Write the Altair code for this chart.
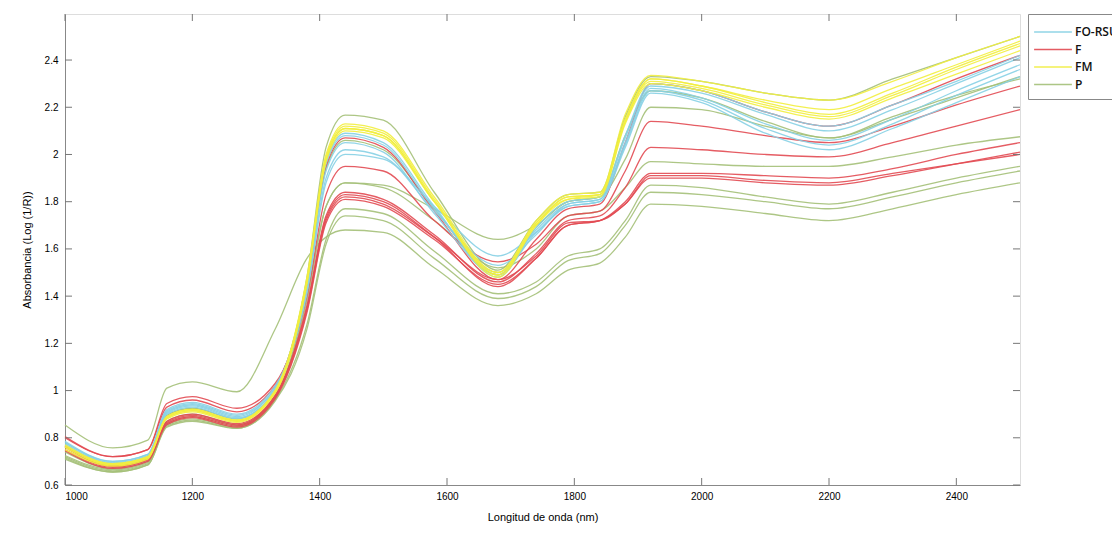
import altair as alt
import pandas as pd

WL = [1000, 1075, 1130, 1160, 1200, 1270, 1330, 1380, 1410, 1440, 1500, 1580,
      1680, 1740, 1790, 1840, 1880, 1920, 2000, 2100, 2200, 2300, 2400, 2500]

GROUPS = ["FO-RSU", "F", "FM", "P"]
COLORS = ["#86d0e4", "#e24a52", "#f2ee3e", "#a4c078"]

# P (green)
p1 = [0.72, 0.66, 0.69, 0.855, 0.88, 0.845, 0.965, 1.40, 1.78, 1.88, 1.87, 1.77, 1.64, 1.70, 1.80, 1.82, 1.98, 2.20, 2.19, 2.12, 2.07, 2.15, 2.24, 2.33]
p2 = [0.725, 0.665, 0.695, 0.87, 0.90, 0.855, 0.98, 1.48, 2.03, 2.167, 2.145, 1.84, 1.51, 1.72, 1.83, 1.84, 2.16, 2.33, 2.31, 2.26, 2.23, 2.32, 2.41, 2.50]
p3 = [0.765, 0.685, 0.715, 0.895, 0.925, 0.88, 1.00, 1.45, 1.94, 2.06, 2.02, 1.77, 1.49, 1.69, 1.80, 1.82, 2.08, 2.27, 2.24, 2.14, 2.07, 2.16, 2.25, 2.32]
p4 = [0.74, 0.67, 0.70, 0.86, 0.89, 0.85, 0.97, 1.38, 1.78, 1.88, 1.86, 1.72, 1.52, 1.60, 1.74, 1.76, 1.86, 1.97, 1.96, 1.95, 1.95, 1.99, 2.04, 2.075]
p5 = [0.71, 0.655, 0.685, 0.85, 0.875, 0.84, 0.96, 1.28, 1.64, 1.77, 1.75, 1.59, 1.41, 1.46, 1.57, 1.60, 1.72, 1.87, 1.86, 1.82, 1.79, 1.84, 1.90, 1.95]
p6 = [0.715, 0.655, 0.685, 0.845, 0.87, 0.84, 0.955, 1.26, 1.62, 1.74, 1.72, 1.56, 1.39, 1.44, 1.55, 1.58, 1.70, 1.84, 1.83, 1.80, 1.77, 1.82, 1.88, 1.93]
p7 = [0.854, 0.757, 0.79, 1.01, 1.037, 0.995, 1.26, 1.56, 1.65, 1.68, 1.67, 1.52, 1.36, 1.41, 1.51, 1.54, 1.65, 1.79, 1.78, 1.75, 1.72, 1.77, 1.83, 1.88]

# F (red)
f1 = [0.80, 0.72, 0.75, 0.93, 0.96, 0.91, 1.02, 1.45, 1.95, 2.07, 2.03, 1.76, 1.47, 1.64, 1.77, 1.79, 2.05, 2.30, 2.27, 2.18, 2.12, 2.21, 2.32, 2.42]
f2 = [0.805, 0.72, 0.75, 0.945, 0.974, 0.925, 1.03, 1.40, 1.83, 1.95, 1.93, 1.72, 1.545, 1.62, 1.74, 1.76, 1.93, 2.14, 2.12, 2.08, 2.05, 2.12, 2.21, 2.29]
f3 = [0.76, 0.68, 0.71, 0.87, 0.90, 0.86, 0.98, 1.36, 1.74, 1.84, 1.81, 1.66, 1.46, 1.58, 1.72, 1.74, 1.86, 2.03, 2.02, 2.00, 1.99, 2.05, 2.12, 2.19]
f4 = [0.765, 0.68, 0.71, 0.865, 0.895, 0.855, 0.975, 1.35, 1.73, 1.83, 1.80, 1.65, 1.44, 1.56, 1.70, 1.72, 1.80, 1.92, 1.92, 1.91, 1.90, 1.94, 2.00, 2.05]
f5 = [0.75, 0.675, 0.705, 0.86, 0.89, 0.85, 0.97, 1.34, 1.72, 1.82, 1.79, 1.65, 1.47, 1.57, 1.71, 1.72, 1.79, 1.90, 1.90, 1.88, 1.87, 1.91, 1.96, 2.01]
f6 = [0.745, 0.67, 0.70, 0.855, 0.885, 0.845, 0.965, 1.33, 1.71, 1.81, 1.78, 1.64, 1.45, 1.56, 1.70, 1.72, 1.79, 1.91, 1.91, 1.89, 1.88, 1.92, 1.96, 2.00]

# FO-RSU (light blue)
b1 = [0.78, 0.695, 0.725, 0.91, 0.94, 0.89, 1.01, 1.46, 1.96, 2.08, 2.04, 1.77, 1.50, 1.68, 1.79, 1.81, 2.07, 2.29, 2.26, 2.17, 2.10, 2.19, 2.30, 2.41]
b2 = [0.775, 0.69, 0.72, 0.905, 0.935, 0.885, 1.00, 1.44, 1.93, 2.05, 2.01, 1.75, 1.49, 1.67, 1.78, 1.80, 2.05, 2.28, 2.24, 2.13, 2.06, 2.15, 2.27, 2.38]
b3 = [0.78, 0.70, 0.73, 0.915, 0.945, 0.895, 1.01, 1.42, 1.90, 2.02, 1.99, 1.76, 1.53, 1.66, 1.79, 1.81, 2.04, 2.27, 2.23, 2.11, 2.04, 2.13, 2.25, 2.36]
b4 = [0.785, 0.70, 0.73, 0.92, 0.95, 0.90, 1.02, 1.41, 1.88, 2.00, 1.98, 1.78, 1.57, 1.67, 1.78, 1.80, 2.03, 2.26, 2.22, 2.09, 2.02, 2.11, 2.22, 2.33]
b5 = [0.77, 0.69, 0.72, 0.90, 0.93, 0.88, 1.00, 1.47, 1.97, 2.09, 2.05, 1.78, 1.48, 1.69, 1.80, 1.82, 2.08, 2.30, 2.27, 2.18, 2.12, 2.21, 2.31, 2.42]

# FM (yellow)
y1 = [0.77, 0.69, 0.72, 0.89, 0.92, 0.875, 1.00, 1.48, 2.00, 2.13, 2.10, 1.82, 1.50, 1.72, 1.83, 1.84, 2.17, 2.335, 2.31, 2.26, 2.23, 2.31, 2.41, 2.50]
y2 = [0.76, 0.685, 0.715, 0.885, 0.915, 0.87, 0.99, 1.46, 1.99, 2.12, 2.09, 1.81, 1.49, 1.71, 1.82, 1.83, 2.15, 2.32, 2.29, 2.22, 2.17, 2.26, 2.37, 2.47]
y3 = [0.765, 0.69, 0.72, 0.89, 0.92, 0.875, 1.00, 1.47, 1.98, 2.11, 2.08, 1.80, 1.48, 1.70, 1.82, 1.83, 2.14, 2.31, 2.28, 2.21, 2.16, 2.25, 2.36, 2.46]
y4 = [0.75, 0.68, 0.71, 0.88, 0.91, 0.865, 0.99, 1.45, 1.97, 2.10, 2.07, 1.80, 1.50, 1.71, 1.81, 1.82, 2.13, 2.30, 2.27, 2.20, 2.15, 2.24, 2.34, 2.44]
y5 = [0.76, 0.685, 0.715, 0.885, 0.915, 0.87, 0.995, 1.46, 1.98, 2.11, 2.08, 1.80, 1.49, 1.70, 1.81, 1.83, 2.14, 2.32, 2.29, 2.23, 2.19, 2.28, 2.38, 2.48]

SPECTRA = [
    ("P", [p1, p2, p3, p4, p5, p6, p7]),
    ("F", [f1, f2, f3, f4, f5, f6]),
    ("FO-RSU", [b1, b2, b3, b4, b5]),
    ("FM", [y1, y2, y3, y4, y5]),
]

X_TICKS = [1000, 1200, 1400, 1600, 1800, 2000, 2200, 2400]
Y_TICKS = [0.6, 0.8, 1.0, 1.2, 1.4, 1.6, 1.8, 2.0, 2.2, 2.4]

rows = []
order = 0
for grp, lst in SPECTRA:
    for k, vals in enumerate(lst):
        order += 1
        for w, v in zip(WL, vals):
            rows.append({"wl": w, "abs": v, "grupo": grp, "id": f"{order:02d}"})
df = pd.DataFrame(rows)

W, H = 955, 471
FONT = "Open Sans"

xs = alt.Scale(domain=[1000, 2500], nice=False, zero=False)
ys = alt.Scale(domain=[0.6, 2.595], nice=False, zero=False)

lines = alt.Chart(df).mark_line(strokeWidth=1.3, interpolate="monotone", opacity=0.9).encode(
    x=alt.X("wl:Q", scale=xs, title="Longitud de onda (nm)",
            axis=alt.Axis(values=X_TICKS, ticks=False, grid=False, format="d",
                          labelPadding=6, titlePadding=10, titleFontWeight="normal")),
    y=alt.Y("abs:Q", scale=ys, title="Absorbancia (Log (1/R))",
            axis=alt.Axis(values=Y_TICKS, ticks=False, grid=False, format=".1~f",
                          labelPadding=7, titlePadding=12, titleFontWeight="normal")),
    color=alt.Color("grupo:N", scale=alt.Scale(domain=GROUPS, range=COLORS),
                    legend=alt.Legend(title=None, orient="none", legendX=963, legendY=0,
                                      symbolType="M-2.1,0H2.1", symbolSize=324,
                                      symbolOffset=7,
                                      symbolStrokeWidth=1.5, labelFontSize=12,
                                      labelFont=FONT, labelColor="#111",
                                      labelFontWeight=600, labelOffset=12,
                                      strokeColor="#888", fillColor="white",
                                      padding=8, rowPadding=1.5, labelLimit=200)),
    detail="id:N",
    order=alt.Order("id:N"),
)

xt = pd.DataFrame({"t": X_TICKS})
yt = pd.DataFrame({"t": Y_TICKS})
tick_color = "#777"
bottom = alt.Chart(xt).mark_rule(color=tick_color).encode(
    x=alt.X("t:Q", scale=xs), y=alt.value(H), y2=alt.value(H - 7))
top = alt.Chart(xt).mark_rule(color=tick_color).encode(
    x=alt.X("t:Q", scale=xs), y=alt.value(0), y2=alt.value(7))
left = alt.Chart(yt).mark_rule(color=tick_color).encode(
    y=alt.Y("t:Q", scale=ys), x=alt.value(0), x2=alt.value(7))
right = alt.Chart(yt).mark_rule(color=tick_color).encode(
    y=alt.Y("t:Q", scale=ys), x=alt.value(W - 7), x2=alt.value(W))

chart = alt.layer(lines, bottom, top, left, right).properties(
    width=W, height=H,
    padding={"left": 65, "top": 14, "right": 92, "bottom": 48},
    autosize=alt.AutoSizeParams(type="none"),
).configure_view(stroke="#777", strokeWidth=1).configure_axis(
    domain=False, labelFont=FONT, titleFont=FONT, labelFontSize=12, titleFontSize=13,
    labelColor="#333", titleColor="#111", titleFontWeight="normal",
).configure(background="white")

chart.save("out.html", embed_options={"renderer": "svg", "actions": False})
